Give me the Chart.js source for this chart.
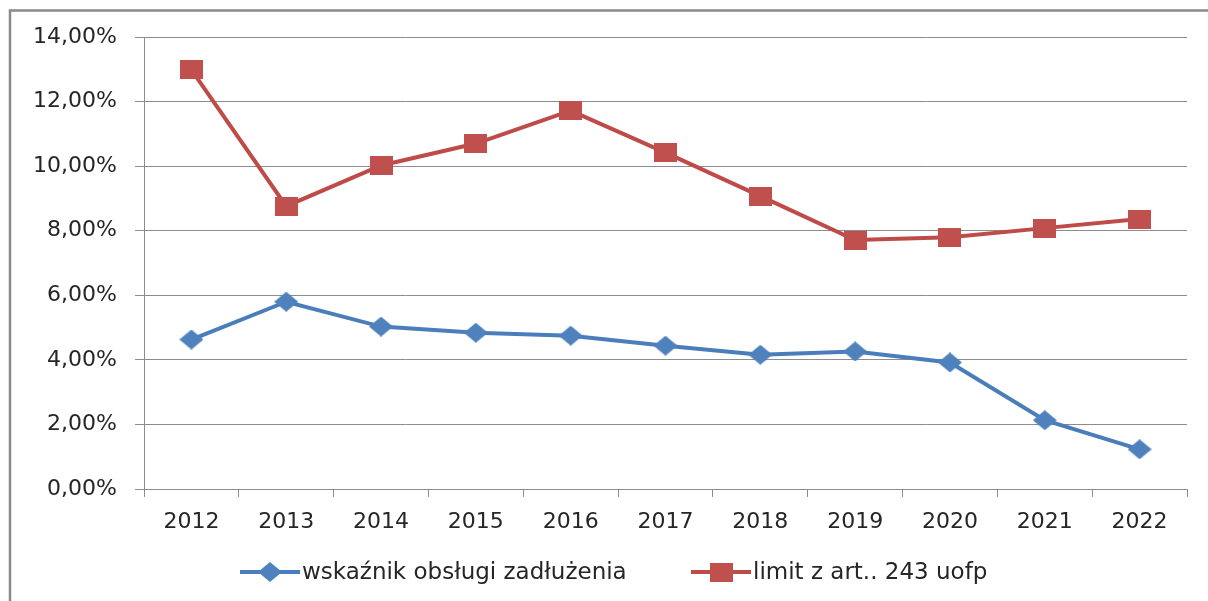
<!DOCTYPE html>
<html>
<head>
<meta charset="utf-8">
<script src="https://cdn.jsdelivr.net/npm/chart.js@4/dist/chart.umd.min.js"></script>
<style>
  html, body { margin: 0; padding: 0; background: #fff; overflow: hidden; }
  #wrap { position: relative; width: 1208px; height: 601px; }
</style>
</head>
<body>
<div id="wrap"><canvas id="chart" width="1208" height="601"></canvas></div>
<script>
'use strict';
// values in percent
const YEARS = ['2012', '2013', '2014', '2015', '2016', '2017', '2018', '2019', '2020', '2021', '2022'];
const DEBT_SERVICE = [4.63, 5.80, 5.03, 4.84, 4.75, 4.44, 4.16, 4.26, 3.92, 2.13, 1.23];
const LIMIT_243 = [12.98, 8.76, 10.02, 10.70, 11.72, 10.42, 9.07, 7.71, 7.80, 8.08, 8.36];
const SERIES_NAMES = ['wskaźnik obsługi zadłużenia', 'limit z art.. 243 uofp'];
const Y_MIN = 0, Y_MAX = 14, Y_STEP = 2;

const FONT = 'DejaVu Sans';
const TEXT = '#262626';
const GRID = '#8c8c8c';
const BLUE_LINE = '#4a7ebb', BLUE_MARK = '#4f81bd';
const RED_LINE = '#be4b48', RED_MARK = '#c0504d';
const LEGEND_X = [240, 691];

// markers are a bit wider than tall in the original
function makeMarker(shape, color, w, h) {
  const c = document.createElement('canvas');
  c.width = w; c.height = h;
  const ctx = c.getContext('2d');
  ctx.fillStyle = color;
  if (shape === 'diamond') {
    ctx.beginPath();
    ctx.moveTo(0, h / 2); ctx.lineTo(w / 2, 0); ctx.lineTo(w, h / 2); ctx.lineTo(w / 2, h);
    ctx.closePath(); ctx.fill();
  } else {
    ctx.fillRect(0, 0, w, h);
  }
  return c;
}
const diamond = makeMarker('diamond', BLUE_MARK, 24, 20);
const square = makeMarker('square', RED_MARK, 23, 19);

const fmtPct = v => v.toFixed(2).replace('.', ',') + '%';

// outer frame + legend with line and marker
const decor = {
  id: 'decor',
  beforeDraw(chart) {
    const ctx = chart.ctx;
    ctx.save();
    ctx.strokeStyle = '#898989';
    ctx.lineWidth = 2.5;
    ctx.strokeRect(10, 10.5, 1400, 900);
    ctx.restore();
  },
  afterDraw(chart) {
    const ctx = chart.ctx;
    const y = 572;
    ctx.save();
    ctx.font = `23px "${FONT}"`;
    ctx.textBaseline = 'middle';
    chart.data.datasets.forEach((ds, i) => {
      const x = LEGEND_X[i];
      ctx.strokeStyle = ds.borderColor;
      ctx.lineWidth = 4;
      ctx.beginPath(); ctx.moveTo(x, y); ctx.lineTo(x + 60, y); ctx.stroke();
      ctx.drawImage(ds.pointStyle, x + 30 - ds.pointStyle.width / 2, y - ds.pointStyle.height / 2);
      ctx.fillStyle = TEXT;
      ctx.fillText(ds.label, x + 62, y + 1);
    });
    ctx.restore();
  }
};

new Chart(document.getElementById('chart'), {
  type: 'line',
  data: {
    labels: YEARS,
    datasets: [
      {
        label: SERIES_NAMES[0], data: DEBT_SERVICE,
        borderColor: BLUE_LINE, borderWidth: 4, tension: 0,
        pointStyle: diamond, pointRadius: 12
      },
      {
        label: SERIES_NAMES[1], data: LIMIT_243,
        borderColor: RED_LINE, borderWidth: 4, tension: 0,
        pointStyle: square, pointRadius: 12
      }
    ]
  },
  options: {
    responsive: false, animation: false, devicePixelRatio: 1,
    layout: { padding: { left: 0, right: 21, top: 37, bottom: 0 } },
    plugins: { legend: { display: false }, tooltip: { enabled: false } },
    scales: {
      x: {
        offset: true,
        afterFit: s => { s.height = 112; },
        grid: { offset: true, drawOnChartArea: false, drawTicks: true, tickLength: 8, color: GRID },
        border: { color: GRID, width: 1 },
        ticks: { color: TEXT, font: { family: FONT, size: 22 }, padding: 12, maxRotation: 0 }
      },
      y: {
        min: Y_MIN, max: Y_MAX,
        afterFit: s => { s.width = 144; },
        grid: { color: GRID, tickLength: 9 },
        border: { color: GRID, width: 1 },
        ticks: { stepSize: Y_STEP, color: TEXT, font: { family: FONT, size: 22 }, padding: 18, callback: fmtPct }
      }
    }
  },
  plugins: [decor]
});
</script>
</body>
</html>
